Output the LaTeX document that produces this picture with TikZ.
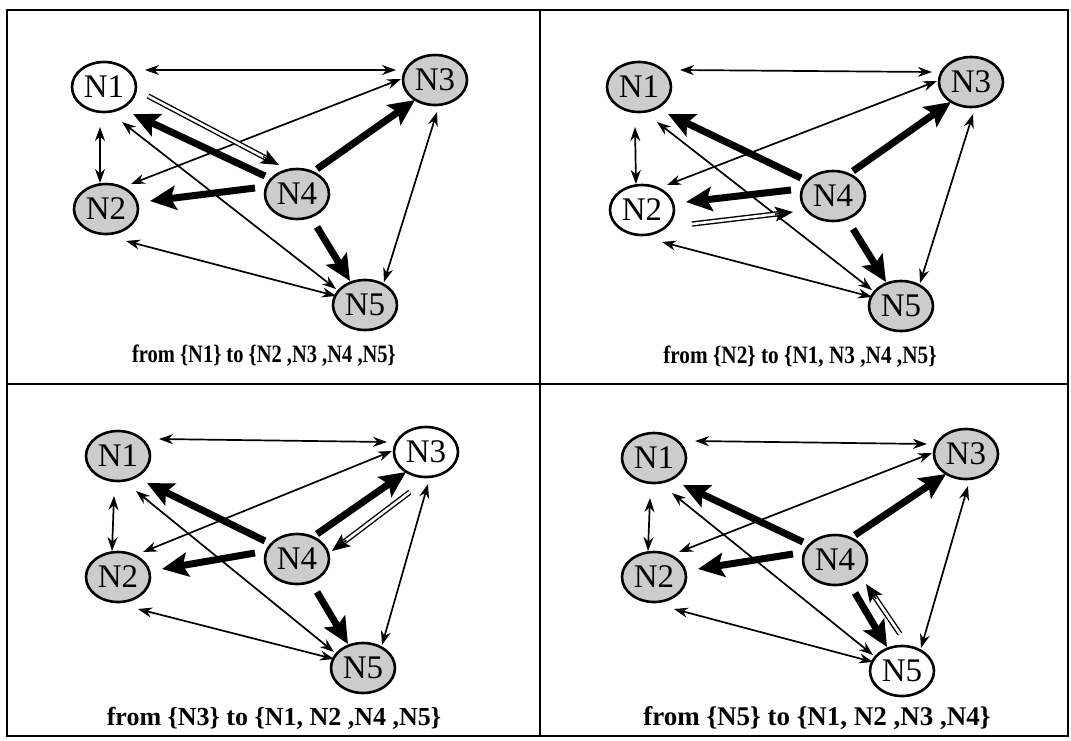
\documentclass[tikz,border=0pt]{standalone}
\usepackage{fontspec}
\setmainfont{Liberation Serif}
\usetikzlibrary{arrows.meta,shapes.geometric,calc}
\newcommand\panelEdges[1]{%
  \draw[thinar] ($(#1N1)+(41,-17)$) -- ($(#1N3)+(-39,-10)$);
  \draw[thinar] ($(#1N1)+(-4,40)$) -- ($(#1N2)+(-6,-26)$);
  \draw[thinar] ($(#1N2)+(25,-25)$) -- ($(#1N3)+(-34,-1)$);
  \draw[thinar] ($(#1N1)+(18,35)$) -- ($(#1N5)+(-29,-16)$);
  \draw[thinar] ($(#1N2)+(20,32)$) -- ($(#1N5)+(-29,-9)$);
  \draw[thinar] ($(#1N3)+(2,32)$) -- ($(#1N5)+(19,-23)$);
  \draw[thickar] ($(#1N4)+(-32,-18)$) -- ($(#1N1)+(29,27)$);
  \draw[thickar] ($(#1N4)+(-42,-6)$) -- ($(#1N2)+(44,-8)$);
  \draw[thickar] ($(#1N4)+(20,-25)$) -- ($(#1N3)+(-20,20)$);
  \draw[thickar] ($(#1N4)+(20,33)$) -- ($(#1N5)+(-15,-24)$);
}
\newcommand\dblArrow[2]{%
  \draw[dblshaft] (#1) -- (#2);
  \draw[dbltip] ($(#2)!9pt!(#1)$) -- (#2);
}
\begin{document}
\begin{tikzpicture}[x=0.5pt,y=-0.5pt,
  nd/.style={ellipse, draw=black, line width=1.3pt, minimum width=32pt, minimum height=25pt, inner sep=0pt, font=\fontsize{16.5}{18}\selectfont},
  gr/.style={nd, fill=black!20},
  wh/.style={nd, fill=white},
  thinar/.style={line width=0.85pt, {Stealth[length=7pt,width=5pt]}-{Stealth[length=7pt,width=5pt]}},
  thickar/.style={line width=3.5pt, -{Stealth[length=13pt,width=12pt,inset=2.5pt]}},
  dblshaft/.style={double, line width=0.7pt, double distance=1.3pt, shorten >=6pt},
  dbltip/.style={line width=0.7pt, -{Stealth[length=9pt,width=7.5pt,inset=2pt]}},
  captop/.style={font=\bfseries\fontsize{12.5}{14}\selectfont},
  capbot/.style={font=\bfseries\fontsize{13}{15}\selectfont},
  framel/.style={line width=1.2pt}
]
\useasboundingbox (0,0) rectangle (1071,740);
% frame
\draw[framel] (7,10) rectangle (1068,736);
\draw[line width=1pt] (540,10) -- (540,736);
\draw[line width=1pt] (7,384) -- (1068,384);
% panel 1
\node[wh] (aN1) at (104,87) {N1};
\node[gr] (aN2) at (106,209) {N2};
\node[gr] (aN3) at (435,80) {N3};
\node[gr] (aN4) at (297,194) {N4};
\node[gr] (aN5) at (365,305) {N5};
\panelEdges{a}
\coordinate (aS) at ($(aN1)+(44,9)$);
\coordinate (aT) at ($(aN4)+(-18,-29)$);
\dblArrow{aS}{aT}
\node[captop] (capA) at (264,356) {\scalebox{0.82}[1]{from \{N1\} to \{N2 ,N3 ,N4 ,N5\}}};
% panel 2
\node[gr] (bN1) at (639,87) {N1};
\node[wh] (bN2) at (642,210) {N2};
\node[gr] (bN3) at (971,82) {N3};
\node[gr] (bN4) at (833,196) {N4};
\node[gr] (bN5) at (901,306) {N5};
\panelEdges{b}
\coordinate (bS) at ($(bN2)+(50,14)$);
\coordinate (bT) at ($(bN4)+(-40,16)$);
\dblArrow{bS}{bT}
\node[captop] (capB) at (800,357) {\scalebox{0.85}[1]{from \{N2\} to \{N1, N3 ,N4 ,N5\}}};
% panel 3
\node[gr] (cN1) at (118,456) {N1};
\node[gr] (cN2) at (118,577) {N2};
\node[wh] (cN3) at (426,452) {N3};
\node[gr] (cN4) at (297,559) {N4};
\node[gr] (cN5) at (363,668) {N5};
\panelEdges{c}
\coordinate (cS) at ($(cN3)+(-16,40)$);
\coordinate (cT) at ($(cN4)+(35,-8)$);
\dblArrow{cS}{cT}
\node[capbot] (capC) at (274,718) {from \{N3\} to \{N1, N2 ,N4 ,N5\}};
% panel 4
\node[gr] (dN1) at (654,458) {N1};
\node[gr] (dN2) at (654,577) {N2};
\node[gr] (dN3) at (966,454) {N3};
\node[gr] (dN4) at (835,560) {N4};
\node[wh] (dN5) at (902,671) {N5};
\panelEdges{d}
\coordinate (dS) at ($(dN5)+(-2,-37)$);
\coordinate (dT) at ($(dN4)+(31,24)$);
\dblArrow{dS}{dT}
\node[capbot, font=\bfseries\fontsize{13.5}{15}\selectfont] (capD) at (817,718) {from \{N5\} to \{N1, N2 ,N3 ,N4\}};
\end{tikzpicture}
\end{document}
